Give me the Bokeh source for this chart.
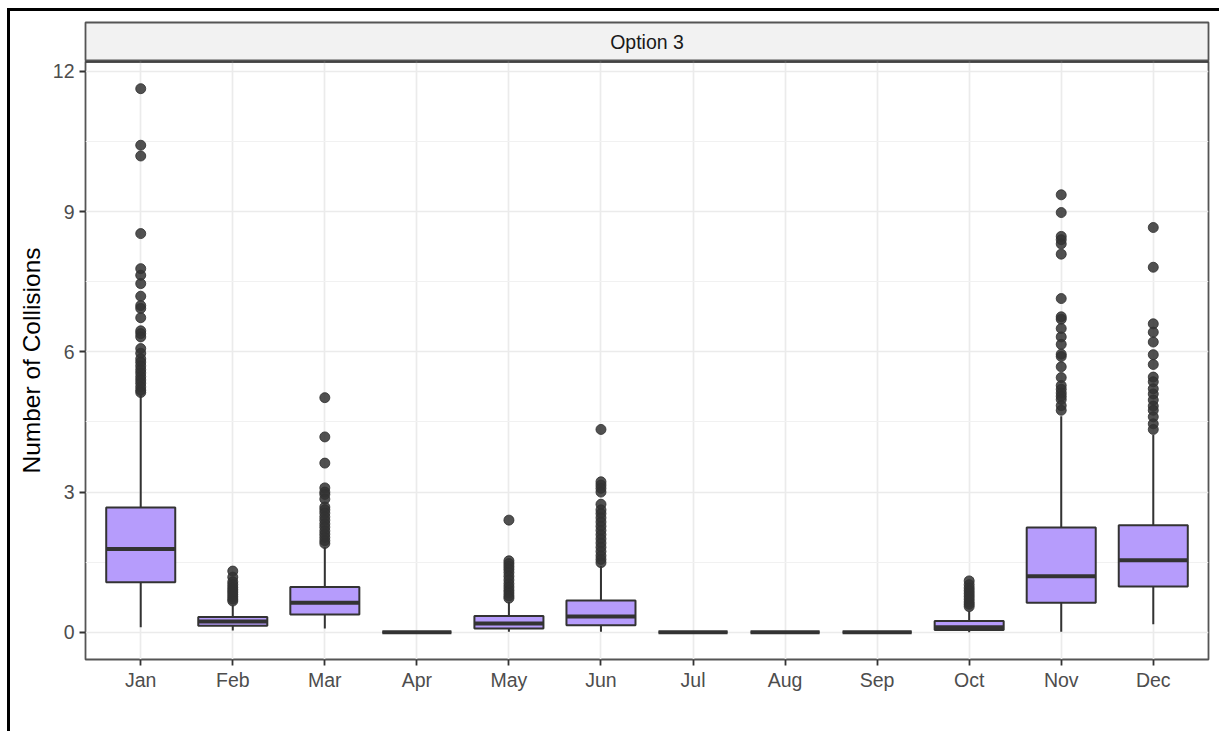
import numpy as np
from bokeh.plotting import figure
from bokeh.layouts import column
from bokeh.models import Range1d, FixedTicker, ColumnDataSource
from bokeh.core.properties import value
from bokeh.embed import file_html
from bokeh.resources import INLINE

# Monthly collision distributions (box-plot summaries)
months = ["Jan", "Feb", "Mar", "Apr", "May", "Jun",
          "Jul", "Aug", "Sep", "Oct", "Nov", "Dec"]
q1 = [1.07, 0.14, 0.38, 0.0, 0.08, 0.15, 0.0, 0.0, 0.0, 0.05, 0.63, 0.98]
median = [1.78, 0.23, 0.63, 0.0, 0.19, 0.34, 0.0, 0.0, 0.0, 0.11, 1.20, 1.54]
q3 = [2.67, 0.33, 0.97, 0.0, 0.35, 0.68, 0.0, 0.0, 0.0, 0.24, 2.24, 2.29]
whisker_lo = [0.11, 0.04, 0.08, 0.0, 0.01, 0.01, 0.0, 0.0, 0.0, 0.0, 0.01, 0.17]
whisker_hi = [5.07, 0.58, 1.82, 0.0, 0.65, 1.42, 0.0, 0.0, 0.0, 0.45, 4.62, 4.22]

outliers_jan = [11.63, 10.42, 10.19, 8.53, 7.78, 7.64, 7.46, 7.19, 6.99, 6.93,
                6.73, 6.45, 6.39, 6.32, 6.07, 5.97, 5.85, 5.78, 5.70, 5.62,
                5.55, 5.47, 5.40, 5.33, 5.25, 5.18, 5.13]
outliers_feb = [1.31, 1.18, 1.08, 1.02, 0.96, 0.91, 0.86, 0.81, 0.76, 0.71, 0.67]
outliers_mar = [5.02, 4.18, 3.62, 3.09, 3.00, 2.95, 2.85, 2.68, 2.62, 2.55,
                2.47, 2.40, 2.32, 2.25, 2.17, 2.10, 2.03, 1.96, 1.90]
outliers_apr = []
outliers_may = [2.40, 1.53, 1.47, 1.41, 1.35, 1.28, 1.20, 1.12, 1.04, 0.97,
                0.90, 0.84, 0.78, 0.73]
outliers_jun = [4.34, 3.22, 3.15, 3.08, 3.00, 2.74, 2.62, 2.54, 2.45, 2.36,
                2.27, 2.18, 2.09, 2.00, 1.91, 1.82, 1.73, 1.64, 1.56, 1.49]
outliers_jul = []
outliers_aug = []
outliers_sep = []
outliers_oct = [1.10, 1.02, 0.95, 0.89, 0.83, 0.77, 0.71, 0.65, 0.60, 0.55]
outliers_nov = [9.36, 8.98, 8.47, 8.40, 8.31, 8.09, 7.14, 6.75, 6.70, 6.50,
                6.32, 6.16, 5.95, 5.90, 5.68, 5.45, 5.28, 5.20, 5.12, 5.05,
                4.98, 4.85, 4.75]
outliers_dec = [8.66, 7.81, 6.60, 6.42, 6.21, 5.94, 5.73, 5.46, 5.36, 5.21,
                5.10, 4.97, 4.84, 4.75, 4.61, 4.46, 4.34]
outliers = [outliers_jan, outliers_feb, outliers_mar, outliers_apr,
            outliers_may, outliers_jun, outliers_jul, outliers_aug,
            outliers_sep, outliers_oct, outliers_nov, outliers_dec]

y_ticks = [0, 3, 6, 9, 12]
panel_label = "Option 3"
y_label = "Number of Collisions"

# ---- geometry -------------------------------------------------------------
xpos = np.arange(1, len(months) + 1)
box_w = 0.75
ymin = min(whisker_lo)
ymax = max(max(o) for o in outliers if o)
pad = 0.05 * (ymax - ymin)
panel_bottom = ymin - pad
panel_top = ymax + pad

FONT = "Liberation Sans"
BOX_FILL = "#B69CFC"
DARK = "#333333"
BORDER = "#555555"
W = 1209

x_range = Range1d(0.4, len(months) + 0.6)

# ---- facet strip ------------------------------------------------------------
strip = figure(width=W, height=50, output_backend="svg", toolbar_location=None,
               x_range=x_range, y_range=Range1d(0, 1),
               x_axis_type=None, y_axis_type=None,
               min_border_left=75, min_border_right=11,
               min_border_top=11, min_border_bottom=0)
strip.grid.visible = False
strip.background_fill_color = "#F2F2F2"
strip.border_fill_color = "white"
strip.outline_line_color = BORDER
strip.outline_line_width = 1.8
strip.text(x=[(len(months) + 1) / 2], y=[0.5], text=[panel_label],
           text_font=value(FONT), text_font_size="19.5px", text_color="#1A1A1A",
           text_align="center", text_baseline="middle")

# ---- main panel -------------------------------------------------------------
p = figure(width=W, height=670, output_backend="svg", toolbar_location=None,
           x_range=x_range, y_range=Range1d(panel_bottom, panel_top),
           min_border_left=75, min_border_right=11,
           min_border_top=0, min_border_bottom=72)

p.background_fill_color = "white"
p.border_fill_color = "white"
p.outline_line_color = BORDER
p.outline_line_width = 1.8

p.xaxis.ticker = FixedTicker(ticks=list(xpos))
p.xaxis.major_label_overrides = {int(i): m for i, m in zip(xpos, months)}
p.yaxis.ticker = FixedTicker(ticks=y_ticks,
                             minor_ticks=[t + 1.5 for t in y_ticks[:-1]])
for g in (p.xgrid, p.ygrid):
    g.grid_line_color = "#EBEBEB"
    g.grid_line_width = 1.7
p.ygrid.minor_grid_line_color = "#F1F1F1"
p.ygrid.minor_grid_line_width = 1.0

for ax in (p.xaxis, p.yaxis):
    ax.axis_line_color = None
    ax.major_tick_line_color = DARK
    ax.major_tick_line_width = 1.8
    ax.major_tick_out = 6
    ax.major_tick_in = 0
    ax.minor_tick_line_color = None
    ax.major_label_text_font = FONT
    ax.major_label_text_font_size = "19.5px"
    ax.major_label_text_color = "#4D4D4D"
p.xaxis.major_label_standoff = 3
p.yaxis.major_label_standoff = 5
p.yaxis.axis_label = y_label
p.yaxis.axis_label_text_font = FONT
p.yaxis.axis_label_text_font_size = "24.5px"
p.yaxis.axis_label_text_font_style = "normal"
p.yaxis.axis_label_text_color = "black"
p.yaxis.axis_label_standoff = 5

# whiskers
p.segment(x0=xpos, x1=xpos, y0=q3, y1=whisker_hi, line_color=DARK, line_width=2)
p.segment(x0=xpos, x1=xpos, y0=whisker_lo, y1=q1, line_color=DARK, line_width=2)

# boxes and medians
src = ColumnDataSource(dict(left=xpos - box_w / 2, right=xpos + box_w / 2,
                            bottom=q1, top=q3, median=median))
p.quad(left="left", right="right", bottom="bottom", top="top", source=src,
       fill_color=BOX_FILL, line_color=DARK, line_width=2)
p.segment(x0="left", x1="right", y0="median", y1="median", source=src,
          line_color=DARK, line_width=4)

# outliers
ox = [x for x, o in zip(xpos, outliers) for _ in o]
oy = [v for o in outliers for v in o]
p.scatter(ox, oy, size=10, fill_color=DARK, fill_alpha=0.85,
          line_color=DARK, line_alpha=0.85)

# dark rule under the strip
p.segment(x0=[0.4], x1=[len(months) + 0.6], y0=[panel_top], y1=[panel_top],
          line_color=DARK, line_width=2.4)

page = column(strip, p, spacing=0, margin=(8, 0, 0, 7))
page.styles = {"border-left": "3px solid black", "border-top": "3px solid black"}

open("out.html", "w").write(file_html(page, INLINE))
